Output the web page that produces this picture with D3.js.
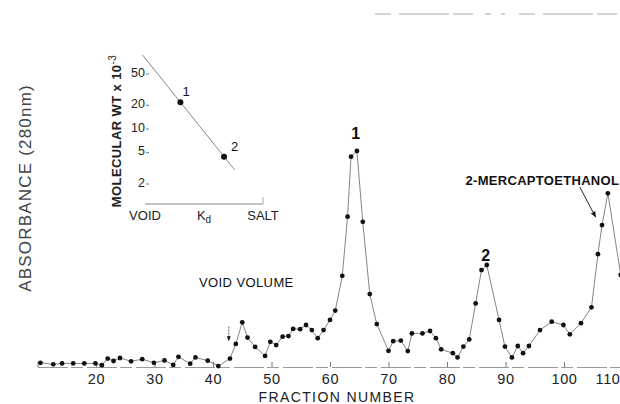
<!DOCTYPE html>
<html>
<head>
<meta charset="utf-8">
<script src="https://cdn.jsdelivr.net/npm/d3@7"></script>
<style>
  html, body { margin: 0; padding: 0; background: #fff; }
  svg { display: block; font-family: "Liberation Sans", Arial, sans-serif; }
</style>
</head>
<body>
<svg id="chart" width="620" height="404"></svg>
<script>
// fraction number of each eluate reading
const fractions = [10.5, 12.7, 14.2, 16.1, 18, 19.9, 21, 22, 23, 24.1, 26, 27.9, 29.9, 31.7, 33.2, 34.1,
    36.1, 37, 39.1, 40.9, 42.9, 43.9, 45, 45.9, 47.2, 48.9, 49.8, 50.8, 51.9, 52.9, 53.7, 54.9, 55.9,
    56.9, 57.9, 58.9, 60, 60.9, 62.1, 63, 63.6, 64.6, 65.6, 66.8, 68, 70, 70.8, 72.1, 73.3, 74, 75.8,
    77.1, 78.1, 79, 81, 81.8, 82.8, 83.8, 84.9, 85.9, 86.8, 88.9, 89.9, 91.1, 92.1, 93, 94, 95.9,
    97.9, 99.9, 101, 102.9, 104.7, 105.8, 106.5, 107.5, 109.7];

// absorbance at 280 nm (arbitrary units, no scale printed)
const absorbance = [0.014, 0.009, 0.012, 0.012, 0.012, 0.012, 0.006, 0.028, 0.02, 0.03, 0.019, 0.026,
    0.014, 0.022, 0.007, 0.034, 0.011, 0.032, 0.021, 0.003, 0.028, 0.077, 0.149, 0.098, 0.067, 0.037,
    0.084, 0.073, 0.101, 0.103, 0.127, 0.126, 0.14, 0.123, 0.096, 0.123, 0.157, 0.188, 0.304, 0.501,
    0.701, 0.72, 0.484, 0.243, 0.143, 0.054, 0.086, 0.088, 0.053, 0.112, 0.112, 0.12, 0.096, 0.059,
    0.046, 0.032, 0.068, 0.092, 0.212, 0.323, 0.34, 0.157, 0.068, 0.032, 0.07, 0.046, 0.07, 0.123,
    0.151, 0.14, 0.109, 0.146, 0.199, 0.376, 0.473, 0.579, 0.307];

const xTicks = [10, 20, 30, 40, 50, 60, 70, 80, 90, 100, 110];

// inset: molecular weight calibration
const insetKd = [0.30, 0.67];
const insetMW = [20.6, 4.2];
const insetNames = ["1", "2"];
const fitKd = [-0.02, 0.76];
const fitMW = [82, 2.85];
const insetTicks = [50, 20, 10, 5, 2];
const insetXLabels = ["VOID", "K", "SALT"];

const svg = d3.select("#chart");
svg.append("rect").attr("width", 620).attr("height", 404).attr("fill", "#fff");

const x = d3.scaleLinear().domain([10, 110]).range([37.5, 622.5]);
const y = d3.scaleLinear().domain([0, 1]).range([367, 67]);

// scan smudge along the top edge
svg.append("line")
    .attr("x1", 375).attr("x2", 620).attr("y1", 14).attr("y2", 14)
    .attr("stroke", "#aaa").attr("stroke-width", 1.2)
    .attr("stroke-dasharray", "16 8 50 4 20 12 6 10 4 14");

// x axis
const xAxis = svg.append("g")
    .attr("transform", "translate(0,367)")
    .call(d3.axisBottom(x).tickValues(xTicks)
        .tickFormat(d => d === 10 ? "" : d)
        .tickSizeInner(-5).tickSizeOuter(0).tickPadding(7));
xAxis.select(".domain").attr("stroke", "#999").attr("stroke-width", 1).attr("stroke-dasharray", "30 3 12 4");
xAxis.selectAll(".tick line").attr("stroke", "#777");
xAxis.selectAll("text").attr("font-size", 14.5).attr("fill", "#222").attr("letter-spacing", 0.6);
// last label sits against the right edge
xAxis.selectAll(".tick text").filter(d => d === 110)
    .attr("text-anchor", "end").attr("x", 620 - x(110));

svg.append("text")
    .attr("x", 337).attr("y", 401.5)
    .attr("text-anchor", "middle")
    .attr("font-size", 14).attr("letter-spacing", 1.4).attr("fill", "#222")
    .text("FRACTION NUMBER");

svg.append("text")
    .attr("transform", "translate(31,188) rotate(-90)")
    .attr("text-anchor", "middle")
    .attr("font-size", 17).attr("letter-spacing", 1.2).attr("fill", "#444")
    .text("ABSORBANCE (280nm)");

// elution profile
const pts = fractions.map((f, i) => ({ f: f, v: absorbance[i] }));
const line = d3.line().x(d => x(d.f)).y(d => y(d.v));

svg.append("path")
    .datum(pts)
    .attr("fill", "none")
    .attr("stroke", "#777")
    .attr("stroke-width", 0.9)
    .attr("d", line);

svg.selectAll("circle.pt")
    .data(pts)
    .enter().append("circle")
    .attr("class", "pt")
    .attr("cx", d => x(d.f))
    .attr("cy", d => y(d.v))
    .attr("r", 2.4)
    .attr("fill", "#111");

// annotations
svg.append("text").attr("x", x(64.4)).attr("y", y(0.76))
    .attr("text-anchor", "middle").attr("font-size", 16).attr("font-weight", "bold").attr("fill", "#111")
    .text("1");
svg.append("text").attr("x", x(86.6)).attr("y", y(0.353))
    .attr("text-anchor", "middle").attr("font-size", 16).attr("font-weight", "bold").attr("fill", "#111")
    .text("2");
svg.append("text").attr("x", x(96.3)).attr("y", y(0.607))
    .attr("text-anchor", "middle").attr("font-size", 13).attr("font-weight", "bold")
    .attr("letter-spacing", 0.3).attr("fill", "#111")
    .text("2-MERCAPTOETHANOL");
svg.append("text").attr("x", x(45.7)).attr("y", y(0.267))
    .attr("text-anchor", "middle").attr("font-size", 13).attr("letter-spacing", 0.4).attr("fill", "#111")
    .text("VOID VOLUME");

svg.append("defs").append("marker")
    .attr("id", "head").attr("viewBox", "0 0 10 10")
    .attr("refX", 9).attr("refY", 5)
    .attr("markerWidth", 6).attr("markerHeight", 6)
    .attr("orient", "auto")
    .append("path").attr("d", "M0,1 L10,5 L0,9 Z").attr("fill", "#111");

svg.append("line")
    .attr("x1", x(102.7)).attr("y1", y(0.6))
    .attr("x2", x(105.4)).attr("y2", y(0.5))
    .attr("stroke", "#222").attr("stroke-width", 1)
    .attr("marker-end", "url(#head)");

svg.append("line")
    .attr("x1", x(42.7)).attr("y1", y(0.135))
    .attr("x2", x(42.7)).attr("y2", y(0.088))
    .attr("stroke", "#333").attr("stroke-width", 0.8)
    .attr("stroke-dasharray", "2 1")
    .attr("marker-end", "url(#head)");

// inset
const kx = d3.scaleLinear().domain([0, 1]).range([145, 263]);
const ky = d3.scaleLog().domain([2, 50]).range([182, 72]);
const inset = svg.append("g");

inset.append("line")
    .attr("x1", kx(0)).attr("x2", kx(1)).attr("y1", 204).attr("y2", 204)
    .attr("stroke", "#888").attr("stroke-width", 1);
inset.append("line")
    .attr("x1", kx(1)).attr("x2", kx(1)).attr("y1", 197).attr("y2", 204)
    .attr("stroke", "#aaa").attr("stroke-width", 1);

inset.selectAll("text.yt")
    .data(insetTicks)
    .enter().append("text")
    .attr("class", "yt")
    .attr("x", 145).attr("y", d => ky(d) + 4.5)
    .attr("text-anchor", "end")
    .attr("font-size", 12.5).attr("fill", "#222")
    .text(d => d);
inset.selectAll("line.yt")
    .data(insetTicks)
    .enter().append("line")
    .attr("class", "yt")
    .attr("x1", 146).attr("x2", 149)
    .attr("y1", d => ky(d) + 2).attr("y2", d => ky(d) + 2)
    .attr("stroke", "#777").attr("stroke-width", 1);

const fit = fitKd.map((k, i) => ({ k: k, m: fitMW[i] }));
inset.append("path")
    .datum(fit)
    .attr("fill", "none").attr("stroke", "#777").attr("stroke-width", 0.9)
    .attr("d", d3.line().x(d => kx(d.k)).y(d => ky(d.m)));

inset.selectAll("circle")
    .data(insetKd)
    .enter().append("circle")
    .attr("cx", d => kx(d))
    .attr("cy", (d, i) => ky(insetMW[i]))
    .attr("r", 3)
    .attr("fill", "#111");

inset.selectAll("text.nm")
    .data(insetKd)
    .enter().append("text")
    .attr("class", "nm")
    .attr("x", (d, i) => kx(d) + (i === 0 ? 2 : 7))
    .attr("y", (d, i) => ky(insetMW[i]) - 6)
    .attr("font-size", 13).attr("fill", "#111")
    .text((d, i) => insetNames[i]);

const xl = inset.selectAll("text.xl")
    .data(insetXLabels)
    .enter().append("text")
    .attr("class", "xl")
    .attr("x", (d, i) => kx(i / 2))
    .attr("y", 220)
    .attr("text-anchor", "middle")
    .attr("font-size", 13).attr("fill", "#222")
    .text(d => d);
xl.filter(d => d === "K").append("tspan")
    .attr("dy", 3).attr("font-size", 10).text("d");

inset.append("text")
    .attr("transform", "translate(121,131) rotate(-90)")
    .attr("text-anchor", "middle")
    .attr("font-size", 13).attr("font-weight", "bold").attr("letter-spacing", 0.4).attr("fill", "#222")
    .text("MOLECULAR WT  x 10")
    .append("tspan").attr("dy", -5).attr("font-size", 10).attr("font-weight", "normal").text("-3");
</script>
</body>
</html>
